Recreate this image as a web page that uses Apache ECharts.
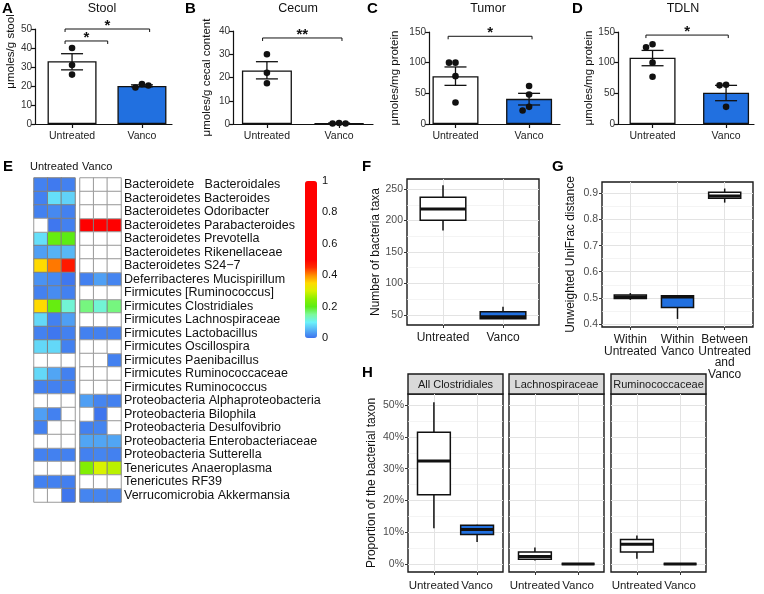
<!DOCTYPE html>
<html>
<head>
<meta charset="utf-8">
<script src="https://cdn.jsdelivr.net/npm/echarts@6/dist/echarts.min.js"></script>
<style>
  html, body { margin: 0; padding: 0; background: #fff; }
  #chart { width: 764px; height: 594px; }
</style>
</head>
<body>
<div id="chart"></div>
<script>
// ---- data ----
const groups = ['Untreated', 'Vanco'];

// A-D: mean, SEM range, individual animals
const stoolMean = [33, 20];
const stoolSem = [[28.5, 37], [19.6, 20.6]];
const stoolPoints = [[40, 31, 26], [21, 19.2, 20.3]];
const stoolSig = [{from: -0.1, to: 0.51, y: 43.7, mark: '*'}, {from: -0.1, to: 1.11, y: 50, mark: '*'}];

const cecumMean = [23, 0.3];
const cecumSem = [[19.4, 26.8], [0.2, 0.4]];
const cecumPoints = [[30, 22, 17.5], [0.4, 0.2, 0.2]];
const cecumSig = [{from: -0.06, to: 1.04, y: 37, mark: '**'}];

const tumorMean = [78, 41];
const tumorSem = [[63, 93], [31, 50]];
const tumorPoints = [[100, 100, 78, 35], [62, 48, 28, 22]];
const tumorSig = [{from: -0.1, to: 1.04, y: 143, mark: '*'}];

const tdlnMean = [108, 51];
const tdlnSem = [[95, 120], [38, 63]];
const tdlnPoints = [[130, 125, 100, 77], [64, 63, 28]];
const tdlnSig = [{from: -0.09, to: 1.03, y: 145, mark: '*'}];

// E: relative abundance heatmap (null = not detected)
const taxa = [
  'Bacteroidete   Bacteroidales', 'Bacteroidetes Bacteroides', 'Bacteroidetes Odoribacter',
  'Bacteroidetes Parabacteroides', 'Bacteroidetes Prevotella', 'Bacteroidetes Rikenellaceae',
  'Bacteroidetes S24\u22127', 'Deferribacteres Mucispirillum', 'Firmicutes [Ruminococcus]',
  'Firmicutes Clostridiales', 'Firmicutes Lachnospiraceae', 'Firmicutes Lactobacillus',
  'Firmicutes Oscillospira', 'Firmicutes Paenibacillus', 'Firmicutes Ruminococcaceae',
  'Firmicutes Ruminococcus', 'Proteobacteria Alphaproteobacteria', 'Proteobacteria Bilophila',
  'Proteobacteria Desulfovibrio', 'Proteobacteria Enterobacteriaceae', 'Proteobacteria Sutterella',
  'Tenericutes Anaeroplasma', 'Tenericutes RF39', 'Verrucomicrobia Akkermansia'
];
const untreatedAbund = [
  [0.012, 0.006, 0.012], [0.012, 0.085, 0.075], [0.012, 0.018, 0.012], [null, 0.004, 0.012],
  [0.085, 0.21, 0.2], [0.035, 0.05, 0.055], [0.35, 0.41, 0.47], [0.025, 0.018, 0.004],
  [0.012, 0.02, 0.012], [0.35, 0.21, 0.12], [0.08, 0.012, 0.035], [0.012, 0.004, 0.012],
  [0.08, 0.08, 0.012], [null, null, null], [0.08, 0.04, 0.012], [0.012, 0.012, 0.012],
  [null, null, null], [0.035, 0.012, null], [0.012, null, null], [null, null, null],
  [0.012, 0.012, 0.012], [null, null, null], [0.012, 0.012, 0.01], [null, null, 0.003]
];
const vancoAbund = [
  [null, null, null], [null, null, null], [null, null, null], [1, 1, 1],
  [null, null, null], [null, null, null], [null, null, null], [0.012, 0.035, 0.015],
  [null, null, null], [0.16, 0.12, 0.16], [null, null, null], [0.012, 0.012, 0.012],
  [null, null, null], [null, null, 0.012], [null, null, null], [null, null, null],
  [0.035, 0.015, 0.012], [null, 0.002, null], [0.012, 0.015, null], [0.04, 0.04, 0.04],
  [0.012, 0.015, 0.012], [0.24, 0.3, 0.28], [null, null, null], [0.015, 0.015, 0.015]
];
const scaleTicks = [0, 0.2, 0.4, 0.6, 0.8, 1];

// F: number of taxa  [min, q1, median, q3, max]
const taxaCount = [[184, 200.5, 218.5, 237, 256], [44, 44, 47, 55, 63]];
// G: unweighted UniFrac
const unifracCats = ['Within\nUntreated', 'Within\nVanco', 'Between\nUntreated\nand\nVanco'];
const unifrac = [[0.492, 0.497, 0.503, 0.511, 0.518], [0.419, 0.463, 0.503, 0.508, 0.51], [0.865, 0.882, 0.89, 0.905, 0.919]];
// H: proportions
const facets = ['All Clostridiales', 'Lachnospiraceae', 'Ruminococcaceae'];
const clostridiales = [[0.113, 0.218, 0.324, 0.415, 0.509], [0.069, 0.093, 0.109, 0.122, 0.124]];
const lachno = [[0.011, 0.015, 0.024, 0.038, 0.052], [0, 0, 0, 0, 0]];
const rumino = [[0.017, 0.038, 0.062, 0.077, 0.09], [0, 0, 0, 0, 0]];

// ---- drawing ----
const FONT = 'Liberation Sans, Arial, Helvetica, sans-serif';
const BLUE = '#2170e0';
const grids = [], xAxes = [], yAxes = [], series = [], graphics = [];

function swarm(ys, d) {
  const placed = [];
  return ys.map(y => {
    for (const dx of [0, -d, d, -2 * d, 2 * d]) {
      if (placed.every(p => Math.hypot(p[0] - dx, p[1] - y) >= d)) { placed.push([dx, y]); return dx; }
    }
    placed.push([0, y]);
    return 0;
  });
}

function addBarPanel(p) {
  const gi = grids.length;
  grids.push({left: p.left, top: p.top, width: p.width, height: p.height});
  xAxes.push({
    gridIndex: gi, type: 'value', min: p.xMin, max: p.xMax,
    axisLine: {show: true, onZero: false, lineStyle: {color: '#111', width: 1.2}},
    axisTick: {show: true, customValues: [0, 1], length: 4, lineStyle: {color: '#111', width: 1.2}},
    axisLabel: {customValues: [0, 1], formatter: v => groups[Math.round(v)], color: '#222', fontSize: 10.5, fontFamily: FONT, margin: 7},
    splitLine: {show: false}
  });
  yAxes.push({
    gridIndex: gi, type: 'value', min: 0, max: p.yMax, interval: p.yStep,
    name: p.yName, nameLocation: 'middle', nameGap: p.nameGap,
    nameTextStyle: {fontSize: 11.5, color: '#111', fontFamily: FONT, padding: p.namePad || 0},
    axisLine: {show: true, onZero: false, lineStyle: {color: '#111', width: 1.2}},
    axisTick: {show: true, length: 4, lineStyle: {color: '#111', width: 1.2}},
    axisLabel: {color: '#333', fontSize: 10, fontFamily: FONT, margin: 3},
    splitLine: {show: false}
  });
  series.push({
    type: 'bar', xAxisIndex: gi, yAxisIndex: gi, barWidth: p.barWidth, z: 2,
    data: p.mean.map((m, i) => ({value: [i, m], itemStyle: {color: i ? BLUE : '#fff'}})),
    itemStyle: {borderColor: '#111', borderWidth: 1.3}
  });
  series.push({
    type: 'custom', xAxisIndex: gi, yAxisIndex: gi, z: 3,
    data: p.sem.map((s, i) => [i, s[0], s[1]]),
    renderItem: (params, api) => {
      const lo = api.coord([api.value(0), api.value(1)]);
      const hi = api.coord([api.value(0), api.value(2)]);
      const hw = 11, st = {stroke: '#111', lineWidth: 1.3};
      return {type: 'group', children: [
        {type: 'line', shape: {x1: lo[0], y1: lo[1], x2: hi[0], y2: hi[1]}, style: st},
        {type: 'line', shape: {x1: lo[0] - hw, y1: lo[1], x2: lo[0] + hw, y2: lo[1]}, style: st},
        {type: 'line', shape: {x1: hi[0] - hw, y1: hi[1], x2: hi[0] + hw, y2: hi[1]}, style: st}
      ]};
    }
  });
  const dots = [];
  p.points.forEach((arr, g) => arr.forEach((v, k) => dots.push([g, v, k])));
  series.push({
    type: 'custom', xAxisIndex: gi, yAxisIndex: gi, z: 4, data: dots,
    renderItem: (params, api) => {
      const g = api.value(0), k = api.value(2);
      const ys = p.points[g].map(v => api.coord([g, v])[1]);
      const off = swarm(ys, 6.5)[k];
      const c = api.coord([g, api.value(1)]);
      return {type: 'circle', shape: {cx: c[0] + off, cy: c[1], r: 3.3}, style: {fill: '#111'}};
    }
  });
  series.push({
    type: 'custom', xAxisIndex: gi, yAxisIndex: gi, z: 4, clip: false,
    data: p.sig.map(s => [s.from, s.y, s.to]),
    renderItem: (params, api) => {
      const a = api.coord([api.value(0), api.value(1)]);
      const b = api.coord([api.value(2), api.value(1)]);
      const mark = p.sig[params.dataIndex].mark;
      return {type: 'group', children: [
        {type: 'polyline', shape: {points: [[a[0], a[1] + 3], [a[0], a[1]], [b[0], b[1]], [b[0], b[1] + 3]]},
          style: {stroke: '#111', lineWidth: 1, fill: null}},
        {type: 'text', style: {text: mark, x: (a[0] + b[0]) / 2, y: a[1] + 4, align: 'center', verticalAlign: 'bottom',
          font: 'bold 15px ' + FONT, fill: '#111'}}
      ]};
    }
  });
}

addBarPanel({left: 35, top: 29, width: 137, height: 95, xMin: -0.53, xMax: 1.43, yMax: 50, yStep: 10, barWidth: 49,
  yName: '\u03bcmoles/g stool', nameGap: 16, namePad: [0, 0, 0, 50],
  mean: stoolMean, sem: stoolSem, points: stoolPoints, sig: stoolSig});
addBarPanel({left: 233, top: 31, width: 140, height: 93, xMin: -0.47, xMax: 1.47, yMax: 40, yStep: 10, barWidth: 50,
  yName: '\u03bcmoles/g cecal content', nameGap: 20,
  mean: cecumMean, sem: cecumSem, points: cecumPoints, sig: cecumSig});
addBarPanel({left: 429, top: 32, width: 131, height: 92, xMin: -0.36, xMax: 1.42, yMax: 150, yStep: 50, barWidth: 46,
  yName: '\u03bcmoles/mg protein', nameGap: 28,
  mean: tumorMean, sem: tumorSem, points: tumorPoints, sig: tumorSig});
addBarPanel({left: 618, top: 32, width: 136, height: 92, xMin: -0.47, xMax: 1.38, yMax: 150, yStep: 50, barWidth: 46,
  yName: '\u03bcmoles/mg protein', nameGap: 19,
  mean: tdlnMean, sem: tdlnSem, points: tdlnPoints, sig: tdlnSig});

// heatmap
const heatValueSeries = [];
function addHeat(left, abund, showLabels) {
  const gi = grids.length;
  grids.push({left: left, top: 178, width: 41, height: 324});
  xAxes.push({gridIndex: gi, type: 'category', data: ['1', '2', '3'], show: false});
  yAxes.push({
    gridIndex: gi, type: 'category', data: taxa, inverse: true, show: showLabels, position: 'right',
    axisLine: {show: false}, axisTick: {show: false}, splitLine: {show: false},
    axisLabel: {interval: 0, margin: 3, fontSize: 12.5, color: '#111', fontFamily: FONT}
  });
  const vals = [], na = [];
  abund.forEach((row, r) => row.forEach((v, c) => (v == null ? na : vals).push([c, r, v == null ? 0 : v])));
  heatValueSeries.push(series.length);
  series.push({type: 'heatmap', xAxisIndex: gi, yAxisIndex: gi, data: vals,
    itemStyle: {borderColor: '#808080', borderWidth: 1}, emphasis: {disabled: true}});
  series.push({type: 'heatmap', xAxisIndex: gi, yAxisIndex: gi, data: na,
    itemStyle: {color: '#fff', borderColor: '#9a9a9a', borderWidth: 1}, emphasis: {disabled: true}});
}
addHeat(34, untreatedAbund, false);
addHeat(80, vancoAbund, true);

// colour bar labels
(function () {
  const gi = grids.length;
  grids.push({left: 305, top: 181, width: 12, height: 157});
  xAxes.push({gridIndex: gi, type: 'value', show: false});
  yAxes.push({gridIndex: gi, type: 'value', min: 0, max: 1, position: 'right',
    axisLine: {show: false}, axisTick: {show: false}, splitLine: {show: false},
    axisLabel: {customValues: scaleTicks, margin: 5, fontSize: 11, color: '#111', fontFamily: FONT}});
})();

// ggplot style box plots
function addBoxPanel(p) {
  const gi = grids.length;
  grids.push({left: p.left, top: p.top, width: p.width, height: p.height, show: true,
    borderColor: '#1a1a1a', borderWidth: 1.4});
  const cats = p.cats;
  const idx = cats.map((c, i) => i);
  xAxes.push({
    gridIndex: gi, type: 'value', min: -0.6, max: cats.length - 0.4,
    axisLine: {show: false, onZero: false},
    axisTick: {show: true, customValues: idx, length: 3, lineStyle: {color: '#333'}},
    axisLabel: {customValues: idx, formatter: v => cats[Math.round(v)], color: '#1a1a1a', fontSize: p.catSize || 12,
      fontFamily: FONT, margin: p.labelMargin || 7, lineHeight: 11.5},
    splitLine: {show: true, lineStyle: {color: '#e3e3e3', width: 1}}
  });
  yAxes.push({
    gridIndex: gi, type: 'value', min: p.yMin, max: p.yMax,
    name: p.yName || '', nameLocation: 'middle', nameGap: p.nameGap,
    nameTextStyle: {fontSize: 12, color: '#111', fontFamily: FONT},
    axisLine: {show: false, onZero: false},
    axisTick: {show: p.showY, customValues: p.majors, length: 3, lineStyle: {color: '#333'}},
    axisLabel: {show: p.showY, customValues: p.majors, formatter: p.fmt, color: '#4d4d4d', fontSize: 10.5,
      fontFamily: FONT, margin: 4},
    splitLine: {show: true, lineStyle: {color: '#e3e3e3', width: 1}}
  });
  const yi = yAxes.length - 1;
  yAxes.push({
    gridIndex: gi, type: 'value', min: p.yMin, max: p.yMax, position: 'left',
    axisLine: {show: false, onZero: false}, axisLabel: {show: false},
    axisTick: {show: false, customValues: p.minors},
    splitLine: {show: true, lineStyle: {color: '#efefef', width: 0.7}}
  });
  series.push({
    type: 'custom', xAxisIndex: gi, yAxisIndex: yi, z: 3,
    data: p.boxes.map((b, i) => [i].concat(b)),
    renderItem: (params, api) => {
      const x = api.value(0);
      const c = d => api.coord([x, api.value(d)]);
      const mn = c(1), q1 = c(2), md = c(3), q3 = c(4), mx = c(5);
      const w = api.size([p.boxW, 0])[0];
      const cx = mn[0], st = {stroke: '#111', lineWidth: 1.5};
      return {type: 'group', children: [
        {type: 'line', shape: {x1: cx, y1: mx[1], x2: cx, y2: q3[1]}, style: st},
        {type: 'line', shape: {x1: cx, y1: q1[1], x2: cx, y2: mn[1]}, style: st},
        {type: 'rect', shape: {x: cx - w / 2, y: q3[1], width: w, height: q1[1] - q3[1]},
          style: {fill: p.fills[params.dataIndex], stroke: '#111', lineWidth: 1.5}},
        {type: 'line', shape: {x1: cx - w / 2, y1: md[1], x2: cx + w / 2, y2: md[1]}, style: {stroke: '#111', lineWidth: 3}}
      ]};
    }
  });
}

addBoxPanel({left: 407, top: 179, width: 132, height: 146, cats: groups, yMin: 34, yMax: 266,
  majors: [50, 100, 150, 200, 250], minors: [75, 125, 175, 225], fmt: v => String(v), showY: true,
  yName: 'Number of bacteria taxa', nameGap: 21, boxes: taxaCount, fills: ['#fff', BLUE], boxW: 0.76});
addBoxPanel({left: 602, top: 182, width: 151, height: 145, cats: unifracCats, yMin: 0.388, yMax: 0.944,
  majors: [0.4, 0.5, 0.6, 0.7, 0.8, 0.9], minors: [0.45, 0.55, 0.65, 0.75, 0.85], fmt: v => v.toFixed(1), showY: true,
  yName: 'Unweighted UniFrac distance', nameGap: 25, boxes: unifrac, fills: ['#fff', BLUE, '#fff'], boxW: 0.68});

const hPanels = [clostridiales, lachno, rumino];
const hLeft = [408, 509, 611];
const pct = v => Math.round(v * 100) + '%';
hPanels.forEach((boxes, i) => {
  addBoxPanel({left: hLeft[i], top: 394, width: 95, height: 178, cats: groups, yMin: -0.025, yMax: 0.535,
    majors: [0, 0.1, 0.2, 0.3, 0.4, 0.5], minors: [0.05, 0.15, 0.25, 0.35, 0.45], fmt: pct, showY: i === 0,
    yName: i === 0 ? 'Proportion of the bacterial taxon' : '', nameGap: 30, labelMargin: 8, catSize: 11.5,
    boxes: boxes, fills: ['#fff', BLUE], boxW: 0.76});
  graphics.push({type: 'rect', shape: {x: hLeft[i], y: 374, width: 95, height: 20},
    style: {fill: '#d9d9d9', stroke: '#1a1a1a', lineWidth: 1.4}});
  graphics.push({type: 'text', style: {text: facets[i], x: hLeft[i] + 47.5, y: 384.5, align: 'center',
    verticalAlign: 'middle', font: '11px ' + FONT, fill: '#1a1a1a'}});
});

// titles and panel letters
[['Stool', 102], ['Cecum', 298], ['Tumor', 488], ['TDLN', 683]].forEach(t => graphics.push({
  type: 'text', style: {text: t[0], x: t[1], y: 9, align: 'center', verticalAlign: 'middle', font: '12.5px ' + FONT, fill: '#111'}}));
[['A', 2, 9], ['B', 185, 9], ['C', 367, 9], ['D', 572, 9], ['E', 3, 167], ['F', 362, 167], ['G', 552, 167], ['H', 362, 373]]
  .forEach(t => graphics.push({type: 'text', style: {text: t[0], x: t[1], y: t[2], align: 'left', verticalAlign: 'middle',
    font: 'bold 15px ' + FONT, fill: '#000'}}));
graphics.push({type: 'text', style: {text: 'Untreated', x: 30, y: 167, verticalAlign: 'middle', font: '11px ' + FONT, fill: '#111'}});
graphics.push({type: 'text', style: {text: 'Vanco', x: 82, y: 167, verticalAlign: 'middle', font: '11px ' + FONT, fill: '#111'}});

const chart = echarts.init(document.getElementById('chart'));
chart.setOption({
  animation: false,
  grid: grids,
  xAxis: xAxes,
  yAxis: yAxes,
  visualMap: {
    type: 'continuous', min: 0, max: 1, seriesIndex: heatValueSeries, calculable: false, showLabel: false,
    left: 305, top: 181, itemWidth: 12, itemHeight: 157, padding: 0, text: null,
    inRange: {color: ['#3d72ee', '#56b2f6', '#6cf2fa', '#7cf89a', '#5cec14', '#8cef00', '#d8f200', '#ffda00',
      '#ff8c00', '#ff2a00', '#ff0000', '#ff0000', '#ff0000', '#ff0000', '#ff0000', '#ff0000', '#ff0000',
      '#ff0000', '#ff0000', '#ff0000', '#ff0000']}
  },
  graphic: graphics,
  series: series
});
</script>
</body>
</html>
